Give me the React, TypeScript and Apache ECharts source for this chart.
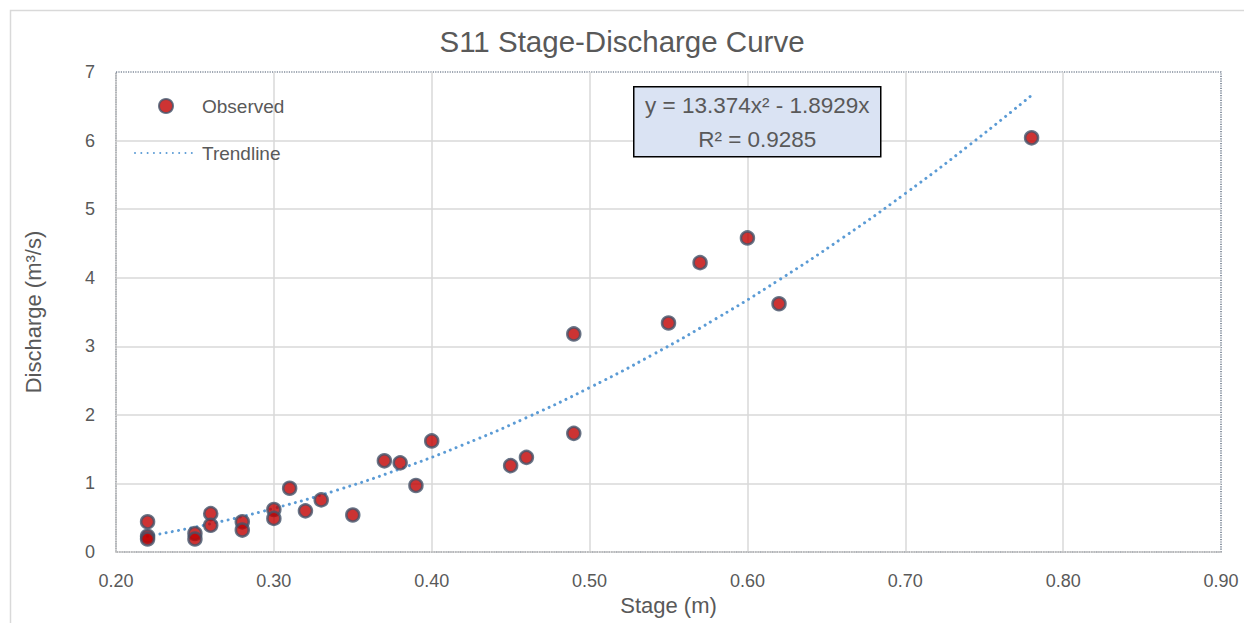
import React, { useEffect, useRef } from "react";
import * as echarts from "echarts";

const stageObserved = [0.22, 0.22, 0.22, 0.25, 0.25, 0.26, 0.26, 0.28, 0.28, 0.30, 0.30, 0.31, 0.32, 0.33, 0.35, 0.37, 0.38, 0.39, 0.40, 0.45, 0.46, 0.49, 0.49, 0.55, 0.57, 0.60, 0.62, 0.78];
const dischargeObserved = [0.44, 0.23, 0.19, 0.27, 0.19, 0.56, 0.39, 0.44, 0.32, 0.62, 0.49, 0.93, 0.60, 0.76, 0.54, 1.33, 1.30, 0.97, 1.62, 1.26, 1.38, 3.18, 1.73, 3.34, 4.22, 4.58, 3.62, 6.04];

const stageTrend = [0.22, 0.26, 0.30, 0.34, 0.38, 0.42, 0.46, 0.50, 0.54, 0.58, 0.62, 0.66, 0.70, 0.74, 0.78];
const dischargeTrend = [0.231, 0.412, 0.636, 0.902, 1.212, 1.564, 1.959, 2.397, 2.878, 3.401, 3.967, 4.576, 5.228, 5.923, 6.660];

const xTicks = { min: 0.2, max: 0.9, interval: 0.1 };
const yTicks = { min: 0, max: 7, interval: 1 };

const titleText = "S11 Stage-Discharge Curve";
const equationText = "y = 13.374x² - 1.8929x";
const r2Text = "R² = 0.9285";

const FONT = "Liberation Sans";
const GREY = "#595959";

export default function App() {
  const ref = useRef<HTMLDivElement>(null);
  useEffect(() => {
    document.body.style.margin = "0";
    const chart = echarts.init(ref.current!, undefined, { renderer: "svg" });
    chart.setOption({
      animation: false,
      backgroundColor: "#ffffff",
      textStyle: { fontFamily: FONT, color: GREY },
      title: {
        text: titleText,
        left: "center",
        top: 21,
        textStyle: { fontFamily: FONT, fontSize: 29.5, fontWeight: "normal", color: GREY },
      },
      grid: {
        left: 116,
        right: 23,
        top: 72,
        bottom: 71,
        show: true,
        borderColor: "#44546A",
        borderWidth: 1.2,
        borderType: "dotted",
      },
      legend: [
        {
          data: ["Observed"],
          left: 158,
          top: 96,
          padding: 0,
          itemWidth: 14,
          itemHeight: 14,
          textStyle: { fontFamily: FONT, fontSize: 19, lineHeight: 20, color: GREY, padding: [0, 0, 0, 24] },
        },
        {
          data: ["Trendline"],
          left: 134,
          top: 143,
          padding: 0,
          itemWidth: 59,
          itemHeight: 14,
          itemStyle: { opacity: 0 },
          textStyle: { fontFamily: FONT, fontSize: 19, lineHeight: 20, color: GREY, padding: [0, 0, 0, 3] },
        },
      ],
      xAxis: {
        type: "value",
        min: xTicks.min,
        max: xTicks.max,
        interval: xTicks.interval,
        name: "Stage (m)",
        nameLocation: "middle",
        nameGap: 39,
        nameTextStyle: { fontFamily: FONT, fontSize: 22, color: GREY },
        axisLine: { show: true, lineStyle: { color: "#BFBFBF", type: "dotted", width: 1.5 } },
        axisTick: { show: false },
        splitLine: { show: true, showMinLine: false, showMaxLine: false, lineStyle: { color: "#D9D9D9", width: 1.5 } },
        axisLabel: {
          margin: 20,
          fontFamily: FONT,
          fontSize: 18,
          color: GREY,
          formatter: (v: number) => v.toFixed(2),
        },
      },
      yAxis: {
        type: "value",
        min: yTicks.min,
        max: yTicks.max,
        interval: yTicks.interval,
        name: "Discharge (m³/s)",
        nameLocation: "middle",
        nameRotate: 90,
        nameGap: 72,
        nameTextStyle: { fontFamily: FONT, fontSize: 22, color: GREY },
        axisLine: { show: true, lineStyle: { color: "#BFBFBF", type: "dotted", width: 1.5 } },
        axisTick: { show: false },
        splitLine: { show: true, showMinLine: false, showMaxLine: false, lineStyle: { color: "#D9D9D9", width: 1.5 } },
        axisLabel: { margin: 21, fontFamily: FONT, fontSize: 18, color: GREY },
      },
      series: [
        {
          name: "Trendline",
          type: "line",
          data: stageTrend.map((x, i) => [x, dischargeTrend[i]]),
          smooth: true,
          symbol: "none",
          lineStyle: { color: "#5B9BD5", width: 3, type: [0.01, 6.3], cap: "round" },
          itemStyle: { color: "#5B9BD5" },
          z: 2,
        },
        {
          name: "Observed",
          type: "scatter",
          data: stageObserved.map((x, i) => [x, dischargeObserved[i]]),
          symbol: "circle",
          symbolSize: 13,
          itemStyle: { color: "#C00000", borderColor: "#44546A", borderWidth: 2.5 },
          z: 3,
        },
      ],
      graphic: [
        {
          type: "rect",
          left: 8,
          top: 8,
          shape: { width: 1260, height: 640 },
          style: { fill: "none", stroke: "#D9D9D9", lineWidth: 1.5 },
          silent: true,
          z: -10,
        },
        {
          type: "group",
          left: 633,
          top: 86,
          z: 100,
          children: [
            {
              type: "rect",
              z: 100,
              shape: { x: 0, y: 0, width: 247, height: 70 },
              style: { fill: "#DAE3F3", stroke: "#000000", lineWidth: 1.5 },
            },
            {
              type: "text",
              z: 101,
              x: 123.5,
              y: 19,
              style: { text: equationText, fontFamily: FONT, fontSize: 22.5, fill: GREY, align: "center", verticalAlign: "middle" },
            },
            {
              type: "text",
              z: 101,
              x: 123.5,
              y: 53,
              style: { text: r2Text, fontFamily: FONT, fontSize: 22.5, fill: GREY, align: "center", verticalAlign: "middle" },
            },
          ],
        },
      ],
    });
    return () => chart.dispose();
  }, []);
  return <div ref={ref} style={{ width: 1244, height: 623 }} />;
}
